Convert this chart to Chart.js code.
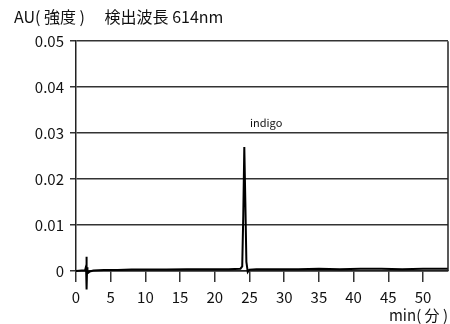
<!DOCTYPE html>
<html>
<head>
<meta charset="utf-8">
<script src="https://cdn.jsdelivr.net/npm/chart.js@4"></script>
<style>
  html, body { margin: 0; padding: 0; background: #fff; }
  #wrap { width: 450px; height: 324px; }
</style>
</head>
<body>
<div id="wrap"><canvas id="chromChart"></canvas></div>
<script>
// retention time (min) and absorbance (AU)
const times = [0, 0.8, 1.3, 1.45, 1.5, 1.55, 1.6, 1.65, 1.75, 2.0, 2.5, 4, 6, 8, 10, 13, 16, 19, 22, 23.7, 23.95, 24.1, 24.25, 24.4, 24.55, 24.75, 25.0, 26, 29, 32, 35, 38, 41, 44, 47, 50, 53.6];
const absorbance = [0.0000, 0.0001, 0.0001, 0.0010, 0.0031, -0.0040, 0.0008, -0.0002, -0.0004, -0.0001, 0.0001, 0.0002, 0.0002, 0.0003, 0.0003, 0.0003, 0.0004, 0.0004, 0.0004, 0.0005, 0.0010, 0.0120, 0.0270, 0.0150, 0.0020, -0.0002, 0.0003, 0.0004, 0.0004, 0.0004, 0.0005, 0.0004, 0.0005, 0.0005, 0.0004, 0.0005, 0.0005];
const yTicks = [0, 0.01, 0.02, 0.03, 0.04, 0.05];
const xTicks = [0, 5, 10, 15, 20, 25, 30, 35, 40, 45, 50];
const peakLabels = [{ text: 'indigo', x: 27.4, y: 0.0322 }];

const FONT = '"Noto Sans CJK JP", "Noto Sans", sans-serif';

const peakLabelPlugin = {
    id: 'peakLabel',
    afterDatasetsDraw(chart) {
        const { ctx, scales } = chart;
        ctx.save();
        ctx.font = '11px ' + FONT;
        ctx.fillStyle = '#111';
        ctx.textAlign = 'center';
        ctx.textBaseline = 'middle';
        peakLabels.forEach(p => {
            ctx.fillText(p.text, scales.x.getPixelForValue(p.x), scales.y.getPixelForValue(p.y));
        });
        // right frame line
        const a = chart.chartArea;
        ctx.strokeStyle = '#222';
        ctx.lineWidth = 1.5;
        ctx.beginPath();
        ctx.moveTo(a.right, a.top);
        ctx.lineTo(a.right, a.bottom);
        ctx.stroke();
        ctx.restore();
    }
};

new Chart(document.getElementById('chromChart'), {
    type: 'line',
    data: {
        labels: times,
        datasets: [{
            data: times.map((t, i) => ({ x: t, y: absorbance[i] })),
            borderColor: '#000',
            borderWidth: 2,
            pointRadius: 0,
            tension: 0,
            clip: false
        }]
    },
    options: {
        responsive: true,
        maintainAspectRatio: false,
        animation: false,
        layout: { padding: { left: 14, right: 2, top: 7, bottom: 0 } },
        plugins: {
            legend: { display: false },
            tooltip: { enabled: false },
            title: {
                display: true,
                text: 'AU( 強度 )\u3000 検出波長 614nm',
                align: 'start',
                color: '#111',
                font: { family: FONT, size: 16, weight: 'normal' },
                padding: { top: 0, bottom: 15 }
            }
        },
        scales: {
            x: {
                type: 'linear',
                min: 0,
                max: 53.6,
                afterBuildTicks: s => { s.ticks = xTicks.map(v => ({ value: v })); },
                afterFit: s => { s.height = 53; },
                grid: { drawOnChartArea: false, tickLength: 11, color: '#333', lineWidth: 1.5 },
                border: { color: '#222', width: 1.5 },
                ticks: { color: '#111', font: { family: FONT, size: 15 }, maxRotation: 0, padding: 6 },
                title: {
                    display: true,
                    text: 'min( 分 )',
                    align: 'end',
                    color: '#111',
                    font: { family: FONT, size: 15 },
                    padding: { top: 0, bottom: 0 }
                }
            },
            y: {
                min: 0,
                max: 0.05,
                afterBuildTicks: s => { s.ticks = yTicks.map(v => ({ value: v })); },
                afterFit: s => { s.width = 62; },
                grid: { color: '#333', lineWidth: 1.5, tickLength: 6 },
                border: { color: '#222', width: 1.5 },
                ticks: {
                    color: '#111',
                    font: { family: FONT, size: 15 },
                    padding: 6,
                    callback: v => v === 0 ? '0' : v.toFixed(2)
                }
            }
        }
    },
    plugins: [peakLabelPlugin]
});
</script>
</body>
</html>
